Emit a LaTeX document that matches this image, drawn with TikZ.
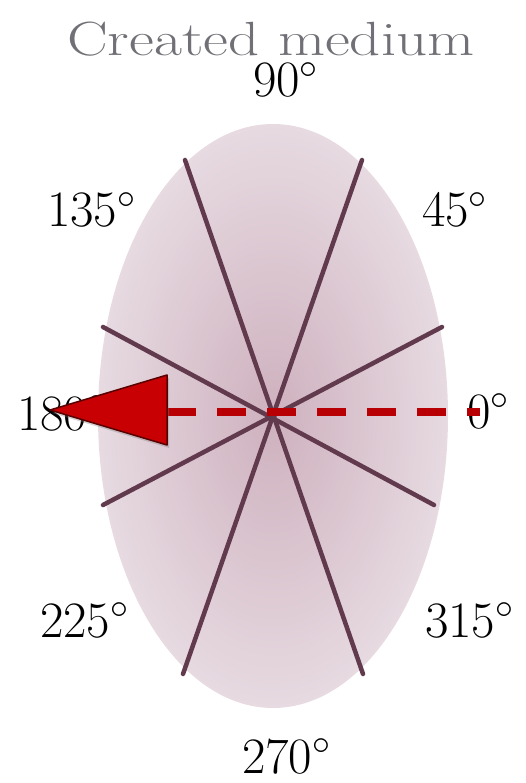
\RequirePackage{fix-cm}
\documentclass[tikz,border=0pt]{standalone}
\usepackage{tikz}
\usetikzlibrary{shadows}
\definecolor{spoke}{RGB}{98,58,78}
\definecolor{medin}{RGB}{206,177,190}
\definecolor{medout}{RGB}{231,218,225}
\definecolor{beam}{RGB}{200,0,4}
\definecolor{titlegray}{RGB}{112,112,118}
\tikzset{
  deg/.style={anchor=base west,inner sep=0pt,text height=0.7em,text depth=0pt,font=\fontsize{51}{51}\selectfont},
  spk/.style={draw=spoke,line width=4.5pt,line cap=round},
  ray/.style={draw=beam!92!black,line width=8.5pt,dash pattern=on 29pt off 21pt},
  wedge/.style={fill=beam,draw=red!35!black,line width=1.5pt,line join=round}
}
\begin{document}
\begin{tikzpicture}[x=1pt,y=-1pt]
\useasboundingbox (0,0) rectangle (526,783);
\node[anchor=base west,inner sep=0pt,text depth=0pt,text=titlegray,font=\fontsize{48}{48}\selectfont,xscale=1.27] (title) at (67,56) {Created medium};
% the medium
\shade[inner color=medin,outer color=medout] (273,416) ellipse [x radius=175,y radius=292];
\coordinate (o) at (272,414);
\coordinate (a1) at (185,160); \coordinate (a2) at (363,674);
\coordinate (b1) at (362,160); \coordinate (b2) at (183,674);
\coordinate (c1) at (103,327); \coordinate (c2) at (434,505);
\coordinate (d1) at (442,327); \coordinate (d2) at (103,505);
\draw[spk] (a1)--(a2); \draw[spk] (b1)--(b2); \draw[spk] (c1)--(c2); \draw[spk] (d1)--(d2);
% angles
\node[deg] (n90) at (253,97) {$90^\circ$};
\node[deg] (n135) at (47,227) {$135^\circ$};
\node[deg] (n45) at (422,227) {$45^\circ$};
\node[deg] (n180) at (17,430) {$180^\circ$};
\node[deg] (n0) at (467,428) {$0^\circ$};
\node[deg] (n225) at (40,637) {$225^\circ$};
\node[deg] (n315) at (425,637) {$315^\circ$};
\node[deg] (n270) at (242,773) {$270^\circ$};
% incoming wave
\coordinate (tip) at (50,410); \coordinate (bt) at (167,375); \coordinate (bb) at (167,445);
\coordinate (bm) at (167,412); \coordinate (rend) at (480,412);
\draw[ray] (bm)--(rend);
\filldraw[wedge,drop shadow={opacity=0.35,shadow xshift=2pt,shadow yshift=-3pt}] (tip)--(bt)--(bb)--cycle;
\end{tikzpicture}
\end{document}
